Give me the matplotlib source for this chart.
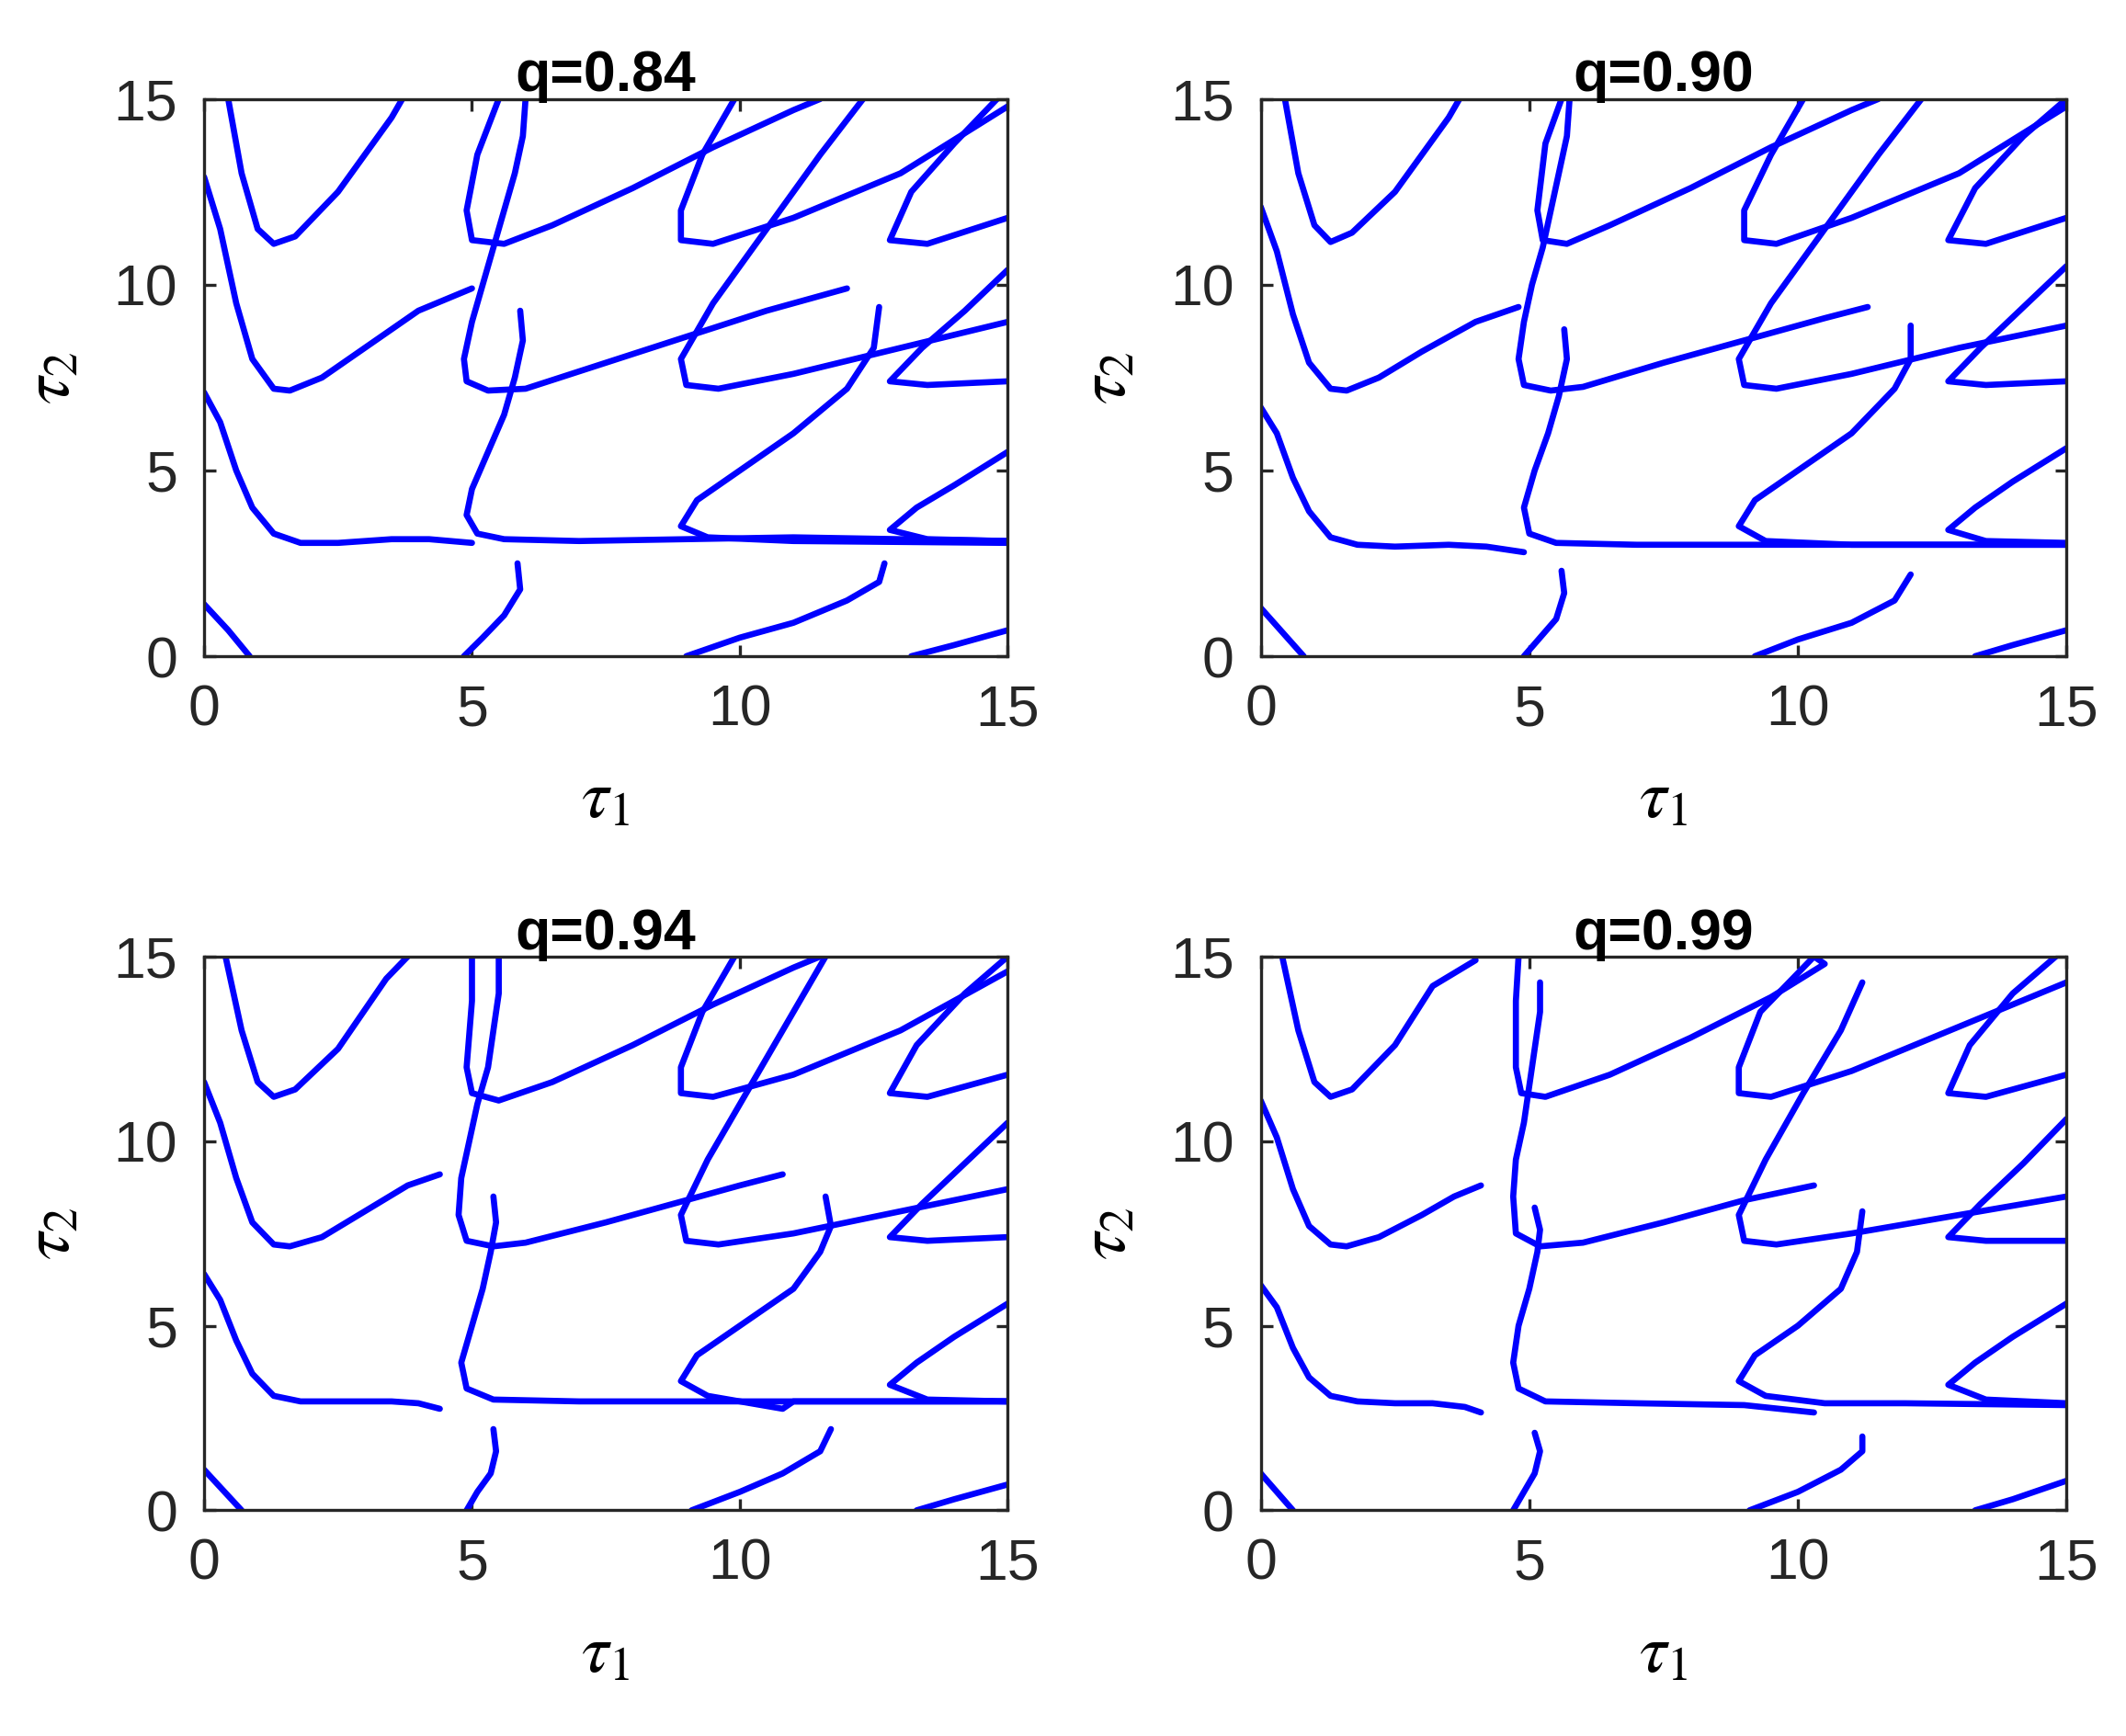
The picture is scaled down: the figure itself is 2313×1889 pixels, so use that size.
import matplotlib
matplotlib.use('Agg')
import matplotlib.pyplot as plt

plt.rcParams['font.family'] = ['Liberation Sans', 'DejaVu Sans']
plt.rcParams['mathtext.fontset'] = 'stix'

titles = ['q=0.84', 'q=0.90', 'q=0.94', 'q=0.99']

# curves, as lists of (tau1, tau2)
curves_084 = [
    [(0, 1.4), (0.45, 0.7), (0.85, 0)],
    [(0, 7.1), (0.3, 6.3), (0.6, 5.0), (0.9, 4.0), (1.3, 3.3), (1.8, 3.05), (2.5, 3.05), (3.5, 3.15), (4.2, 3.15), (5.0, 3.05)],
    [(0, 12.9), (0.3, 11.5), (0.6, 9.5), (0.9, 8.0), (1.3, 7.2), (1.6, 7.15), (2.2, 7.5), (3, 8.3), (4, 9.3), (5, 9.9)],
    [(0.45, 15), (0.7, 13.0), (1.0, 11.5), (1.3, 11.1), (1.7, 11.3), (2.5, 12.5), (3.5, 14.5), (3.7, 15)],
    [(4.85, 0), (5.2, 0.5), (5.6, 1.1), (5.9, 1.8), (5.85, 2.5)],
    [(5.9, 9.3), (5.95, 8.5), (5.8, 7.5), (5.6, 6.5), (5.3, 5.5), (5.0, 4.5), (4.9, 3.8), (5.1, 3.3), (5.6, 3.15), (7, 3.1), (9, 3.15), (11, 3.2), (13, 3.15), (15, 3.1)],
    [(5.5, 15), (5.1, 13.5), (4.9, 12), (5.0, 11.2), (5.6, 11.1), (6.5, 11.6), (8, 12.6), (9.5, 13.7), (11, 14.7), (11.5, 15)],
    [(6.0, 15), (5.95, 14), (5.8, 13), (5.6, 12), (5.4, 11), (5.2, 10), (5.0, 9), (4.85, 8), (4.9, 7.4), (5.3, 7.15), (6, 7.2), (7.5, 7.9), (9, 8.6), (10.5, 9.3), (12, 9.9)],
    [(9, 0), (10, 0.5), (11, 0.9), (12, 1.5), (12.6, 2.0), (12.7, 2.5)],
    [(15, 3.05), (11, 3.1), (9.4, 3.2), (8.9, 3.5), (9.2, 4.2), (10, 5.0), (11, 6.0), (12, 7.2), (12.5, 8.3), (12.6, 9.4)],
    [(9.9, 15), (9.3, 13.5), (8.9, 12), (8.9, 11.2), (9.5, 11.1), (11, 11.8), (13, 13.0), (15, 14.8)],
    [(12.3, 15), (11.5, 13.5), (10.5, 11.5), (9.5, 9.5), (8.9, 8), (9.0, 7.3), (9.6, 7.2), (11, 7.6), (13, 8.3), (15, 9.0)],
    [(13.2, 0), (14, 0.3), (15, 0.7)],
    [(15, 5.5), (14, 4.6), (13.3, 4.0), (12.8, 3.4), (13.5, 3.15), (15, 3.1)],
    [(15, 10.4), (14.2, 9.3), (13.4, 8.3), (12.8, 7.4), (13.5, 7.3), (15, 7.4)],
    [(14.8, 15), (14, 13.8), (13.2, 12.5), (12.8, 11.2), (13.5, 11.1), (15, 11.8)],
]

curves_090 = [
    [(0, 1.3), (0.4, 0.65), (0.8, 0)],
    [(0, 6.7), (0.3, 6.0), (0.6, 4.8), (0.9, 3.9), (1.3, 3.2), (1.8, 3.0), (2.5, 2.95), (3.5, 3.0), (4.2, 2.95), (4.9, 2.8)],
    [(0, 12.1), (0.3, 10.9), (0.6, 9.2), (0.9, 7.9), (1.3, 7.2), (1.6, 7.15), (2.2, 7.5), (3, 8.2), (4, 9.0), (4.8, 9.4)],
    [(0.45, 15), (0.7, 13.0), (1.0, 11.6), (1.3, 11.15), (1.7, 11.4), (2.5, 12.5), (3.5, 14.5), (3.7, 15)],
    [(4.9, 0), (5.2, 0.5), (5.5, 1.0), (5.65, 1.7), (5.6, 2.3)],
    [(5.65, 8.8), (5.7, 8.0), (5.55, 7.0), (5.35, 6.0), (5.1, 5.0), (4.9, 4.0), (5.0, 3.3), (5.5, 3.05), (7, 3.0), (9, 3.0), (11, 3.0), (13, 3.0), (15, 3.0)],
    [(5.6, 15), (5.3, 13.8), (5.15, 12), (5.25, 11.2), (5.7, 11.1), (6.5, 11.6), (8, 12.6), (9.5, 13.7), (11, 14.7), (11.5, 15)],
    [(5.75, 15), (5.7, 14), (5.55, 13), (5.4, 12), (5.25, 11), (5.05, 10), (4.9, 9), (4.8, 8), (4.9, 7.3), (5.4, 7.15), (6, 7.25), (7.5, 7.9), (9, 8.5), (10.5, 9.1), (11.3, 9.4)],
    [(9.2, 0), (10, 0.45), (11, 0.9), (11.8, 1.5), (12.1, 2.2)],
    [(15, 3.0), (11, 3.0), (9.4, 3.1), (8.9, 3.5), (9.2, 4.2), (10, 5.0), (11, 6.0), (11.8, 7.2), (12.1, 8.0), (12.1, 8.9)],
    [(10.1, 15), (9.5, 13.5), (9.0, 12), (9.0, 11.2), (9.6, 11.1), (11, 11.8), (13, 13.0), (15, 14.8)],
    [(12.3, 15), (11.5, 13.5), (10.5, 11.5), (9.5, 9.5), (8.9, 8), (9.0, 7.3), (9.6, 7.2), (11, 7.6), (13, 8.3), (15, 8.9)],
    [(13.3, 0), (14, 0.3), (15, 0.7)],
    [(15, 5.6), (14, 4.7), (13.3, 4.0), (12.8, 3.4), (13.5, 3.1), (15, 3.05)],
    [(15, 10.5), (14.2, 9.4), (13.4, 8.3), (12.8, 7.4), (13.5, 7.3), (15, 7.4)],
    [(15, 15), (14.2, 14.0), (13.3, 12.6), (12.8, 11.2), (13.5, 11.1), (15, 11.8)],
]

curves_094 = [
    [(0, 1.1), (0.35, 0.55), (0.7, 0)],
    [(0, 6.4), (0.3, 5.7), (0.6, 4.6), (0.9, 3.7), (1.3, 3.1), (1.8, 2.95), (2.5, 2.95), (3.5, 2.95), (4.0, 2.9), (4.4, 2.75)],
    [(0, 11.6), (0.3, 10.5), (0.6, 9.0), (0.9, 7.8), (1.3, 7.2), (1.6, 7.15), (2.2, 7.4), (3, 8.1), (3.8, 8.8), (4.4, 9.1)],
    [(0.4, 15), (0.7, 13.0), (1.0, 11.6), (1.3, 11.2), (1.7, 11.4), (2.5, 12.5), (3.4, 14.4), (3.8, 15)],
    [(4.9, 0), (5.1, 0.5), (5.35, 1.0), (5.45, 1.6), (5.4, 2.2)],
    [(5.4, 8.5), (5.45, 7.8), (5.35, 7.0), (5.2, 6.0), (5.0, 5.0), (4.8, 4.0), (4.9, 3.3), (5.4, 3.0), (7, 2.95), (9, 2.95), (11, 2.95), (13, 2.95), (15, 2.95)],
    [(5.0, 15), (5.0, 13.8), (4.9, 12), (5.0, 11.3), (5.5, 11.1), (6.5, 11.6), (8, 12.6), (9.5, 13.7), (11, 14.7), (11.5, 15)],
    [(5.5, 15), (5.5, 14), (5.4, 13), (5.3, 12), (5.1, 11), (4.95, 10), (4.8, 9), (4.75, 8), (4.9, 7.3), (5.4, 7.15), (6, 7.25), (7.5, 7.8), (9, 8.4), (10.0, 8.8), (10.8, 9.1)],
    [(9.1, 0), (10, 0.5), (10.8, 1.0), (11.5, 1.6), (11.7, 2.2)],
    [(15, 2.95), (11, 2.95), (10.8, 2.75), (9.4, 3.1), (8.9, 3.5), (9.2, 4.2), (10, 5.0), (11, 6.0), (11.5, 7.0), (11.7, 7.7), (11.6, 8.5)],
    [(9.9, 15), (9.3, 13.5), (8.9, 12), (8.9, 11.3), (9.5, 11.2), (11, 11.8), (13, 13.0), (15, 14.6)],
    [(11.6, 15), (11.0, 13.5), (10.2, 11.5), (9.4, 9.5), (8.9, 8), (9.0, 7.3), (9.6, 7.2), (11, 7.5), (13, 8.1), (15, 8.7)],
    [(13.3, 0), (14, 0.3), (15, 0.7)],
    [(15, 5.6), (14, 4.7), (13.3, 4.0), (12.8, 3.4), (13.5, 3.0), (15, 2.95)],
    [(15, 10.5), (14.2, 9.4), (13.4, 8.3), (12.8, 7.4), (13.5, 7.3), (15, 7.4)],
    [(15, 15), (14.2, 14.0), (13.3, 12.6), (12.8, 11.3), (13.5, 11.2), (15, 11.8)],
]

curves_099 = [
    [(0, 1.0), (0.3, 0.5), (0.6, 0)],
    [(0, 6.1), (0.3, 5.5), (0.6, 4.4), (0.9, 3.6), (1.3, 3.1), (1.8, 2.95), (2.5, 2.9), (3.2, 2.9), (3.8, 2.8), (4.1, 2.65)],
    [(0, 11.1), (0.3, 10.1), (0.6, 8.7), (0.9, 7.7), (1.3, 7.2), (1.6, 7.15), (2.2, 7.4), (3, 8.0), (3.6, 8.5), (4.1, 8.8)],
    [(0.4, 15), (0.7, 13.0), (1.0, 11.6), (1.3, 11.2), (1.7, 11.4), (2.5, 12.6), (3.2, 14.2), (4.0, 14.9)],
    [(4.7, 0), (4.9, 0.5), (5.1, 1.0), (5.2, 1.6), (5.1, 2.1)],
    [(5.1, 8.2), (5.2, 7.6), (5.15, 7.0), (5.0, 6.0), (4.8, 5.0), (4.7, 4.0), (4.8, 3.3), (5.3, 2.95), (7, 2.9), (9, 2.85), (10.3, 2.65)],
    [(4.8, 15), (4.75, 13.8), (4.75, 12), (4.85, 11.3), (5.3, 11.2), (6.5, 11.8), (8, 12.8), (9.5, 13.9), (10.5, 14.8), (10.3, 15)],
    [(5.2, 14.3), (5.2, 13.5), (5.1, 12.5), (5.0, 11.5), (4.9, 10.5), (4.75, 9.5), (4.7, 8.5), (4.75, 7.5), (5.2, 7.15), (6, 7.25), (7.5, 7.8), (9, 8.4), (10.3, 8.8)],
    [(9.1, 0), (10, 0.5), (10.8, 1.1), (11.2, 1.6), (11.2, 2.0)],
    [(15, 2.85), (12, 2.9), (10.5, 2.9), (9.4, 3.1), (8.9, 3.5), (9.2, 4.2), (10, 5.0), (10.8, 6.0), (11.1, 7.0), (11.2, 8.1)],
    [(10.3, 15), (9.3, 13.5), (8.9, 12), (8.9, 11.3), (9.5, 11.2), (11, 11.9), (13, 13.1), (15, 14.3)],
    [(11.2, 14.3), (10.8, 13.0), (10.1, 11.3), (9.4, 9.5), (8.9, 8), (9.0, 7.3), (9.6, 7.2), (11, 7.5), (13, 8.0), (15, 8.5)],
    [(13.3, 0), (14, 0.3), (15, 0.8)],
    [(15, 5.6), (14, 4.7), (13.3, 4.0), (12.8, 3.4), (13.5, 3.0), (15, 2.9)],
    [(15, 10.6), (14.2, 9.4), (13.4, 8.3), (12.8, 7.4), (13.5, 7.3), (15, 7.3)],
    [(14.8, 15), (14.0, 14.0), (13.2, 12.6), (12.8, 11.3), (13.5, 11.2), (15, 11.8)],
]

all_curves = [curves_084, curves_090, curves_094, curves_099]

fig = plt.figure(figsize=(2313 / 300, 1889 / 300), dpi=300)
boxes = [
    [0.096, 0.622, 0.378, 0.321],
    [0.593, 0.622, 0.379, 0.321],
    [0.096, 0.130, 0.378, 0.319],
    [0.593, 0.130, 0.379, 0.319],
]

for box, title, curves in zip(boxes, titles, all_curves):
    ax = fig.add_axes(box)
    for c in curves:
        xs = [p[0] for p in c]
        ys = [p[1] for p in c]
        ax.plot(xs, ys, color='#0000ff', lw=1.6, solid_capstyle='round', solid_joinstyle='round')
    ax.set_xlim(0, 15)
    ax.set_ylim(0, 15)
    ax.set_xticks([0, 5, 10, 15])
    ax.set_yticks([0, 5, 10, 15])
    ax.tick_params(labelsize=15, direction='in', length=3, pad=7, top=True, right=True, colors='#262626')
    for s in ax.spines.values():
        s.set_color('#262626')
        s.set_linewidth(0.8)
    ax.set_title(title, fontsize=15, fontweight='bold', pad=2)
    ax.set_xlabel(r'$\tau_1$', fontsize=18, labelpad=8)
    ax.set_ylabel(r'$\tau_2$', fontsize=18, labelpad=8)

fig.savefig('out.png', dpi=300)
